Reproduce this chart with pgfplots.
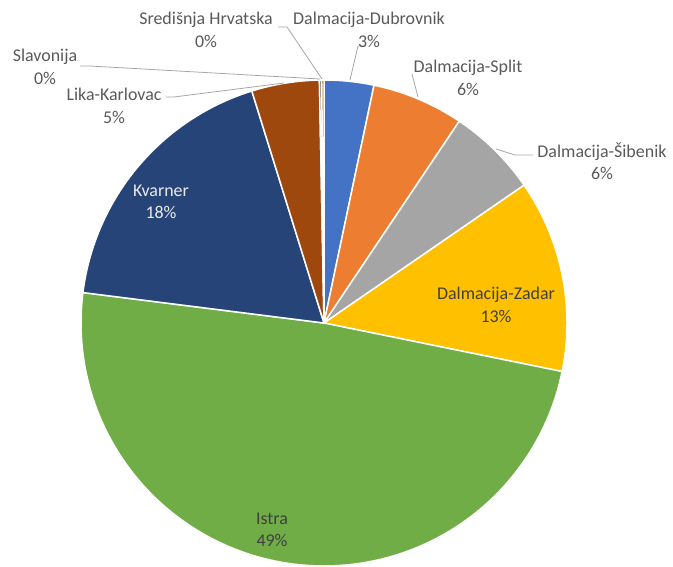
\documentclass[border=0pt]{standalone}
\usepackage{pgfplots}
\pgfplotsset{compat=1.18}
\usepackage{pgfplotstable}
\usepackage{fontspec}
\setmainfont{Carlito}

\definecolor{cDub}{HTML}{4472C4}
\definecolor{cSpl}{HTML}{ED7D31}
\definecolor{cSib}{HTML}{A5A5A5}
\definecolor{cZad}{HTML}{FFC000}
\definecolor{cIst}{HTML}{70AD47}
\definecolor{cKva}{HTML}{264478}
\definecolor{cLik}{HTML}{9E480E}
\definecolor{cSla}{HTML}{636363}
\definecolor{cSre}{HTML}{997300}
\definecolor{lab}{HTML}{595959}
\definecolor{labd}{HTML}{404040}
\definecolor{lead}{HTML}{A6A6A6}

% share of each region, percent (clockwise from 12 o'clock)
\pgfplotstableread{
name value
Dubrovnik 3.3
Split 6.1
Sibenik 6.0
Zadar 12.8
Istra 48.8
Kvarner 18.2
LikaKarlovac 4.5
Slavonija 0.15
Sredisnja 0.15
}\datatable

\def\acc{0}
\foreach \i in {0,...,8}{%
  \pgfplotstablegetelem{\i}{value}\of\datatable
  \pgfmathsetmacro\start{\acc*3.6}%
  \pgfmathsetmacro\newacc{\acc+\pgfplotsretval}%
  \pgfmathsetmacro\stop{\newacc*3.6}%
  \expandafter\xdef\csname sA\i\endcsname{\start}%
  \expandafter\xdef\csname sB\i\endcsname{\stop}%
  \xdef\acc{\newacc}%
}

\newcommand\slice[2]{%
  \addplot[fill=#2, draw=white, line width=1.5pt, line join=round,
    domain={\csname sA#1\endcsname}:{\csname sB#1\endcsname}, samples=120]
    ({324+243*sin(x)},{323-243*cos(x)}) -- (axis cs:324,323) -- cycle;}

\begin{document}
\begin{tikzpicture}
\begin{axis}[hide axis, scale only axis, width=673bp, height=565bp,
  xmin=0, xmax=673, ymin=0, ymax=565, y dir=reverse, clip=false]
\path (axis cs:0,0) rectangle (axis cs:673,565);
\slice{0}{cDub}
\slice{1}{cSpl}
\slice{2}{cSib}
\slice{3}{cZad}
\slice{4}{cIst}
\slice{5}{cKva}
\slice{6}{cLik}
\slice{7}{cSla}
\slice{8}{cSre}

% leader lines
\draw[lead, line width=0.8pt] (axis cs:278,27) -- (axis cs:287,27) -- (axis cs:322,79);
\draw[lead, line width=0.8pt] (axis cs:80,66) -- (axis cs:90,66) -- (axis cs:320,79);
\draw[lead, line width=0.8pt] (axis cs:166,97) -- (axis cs:174,97) -- (axis cs:284,83);
\draw[lead, line width=0.8pt] (axis cs:366,46) -- (axis cs:358,46) -- (axis cs:350,80);
\draw[lead, line width=0.8pt] (axis cs:412,74) -- (axis cs:418,97);
\draw[lead, line width=0.8pt] (axis cs:496,149) -- (axis cs:515,155) -- (axis cs:533,155);

% labels
\tikzset{lbl/.style={align=center, font=\fontsize{18}{22.5}\selectfont, text=lab, inner sep=0pt}}
\node[lbl] at (axis cs:206,30) {Središnja Hrvatska\\0\%};
\node[lbl] at (axis cs:369,30) {Dalmacija-Dubrovnik\\3\%};
\node[lbl] at (axis cs:468,78) {Dalmacija-Split\\6\%};
\node[lbl] at (axis cs:602,161) {Dalmacija-Šibenik\\6\%};
\node[lbl, text=labd] at (axis cs:496,305) {Dalmacija-Zadar\\13\%};
\node[lbl, text=labd] at (axis cs:272,530) {Istra\\49\%};
\node[lbl, text=white!92!black] at (axis cs:161,202) {Kvarner\\18\%};
\node[lbl] at (axis cs:114,106) {Lika-Karlovac\\5\%};
\node[lbl] at (axis cs:45,67) {Slavonija\\0\%};
\end{axis}
\end{tikzpicture}
\end{document}
